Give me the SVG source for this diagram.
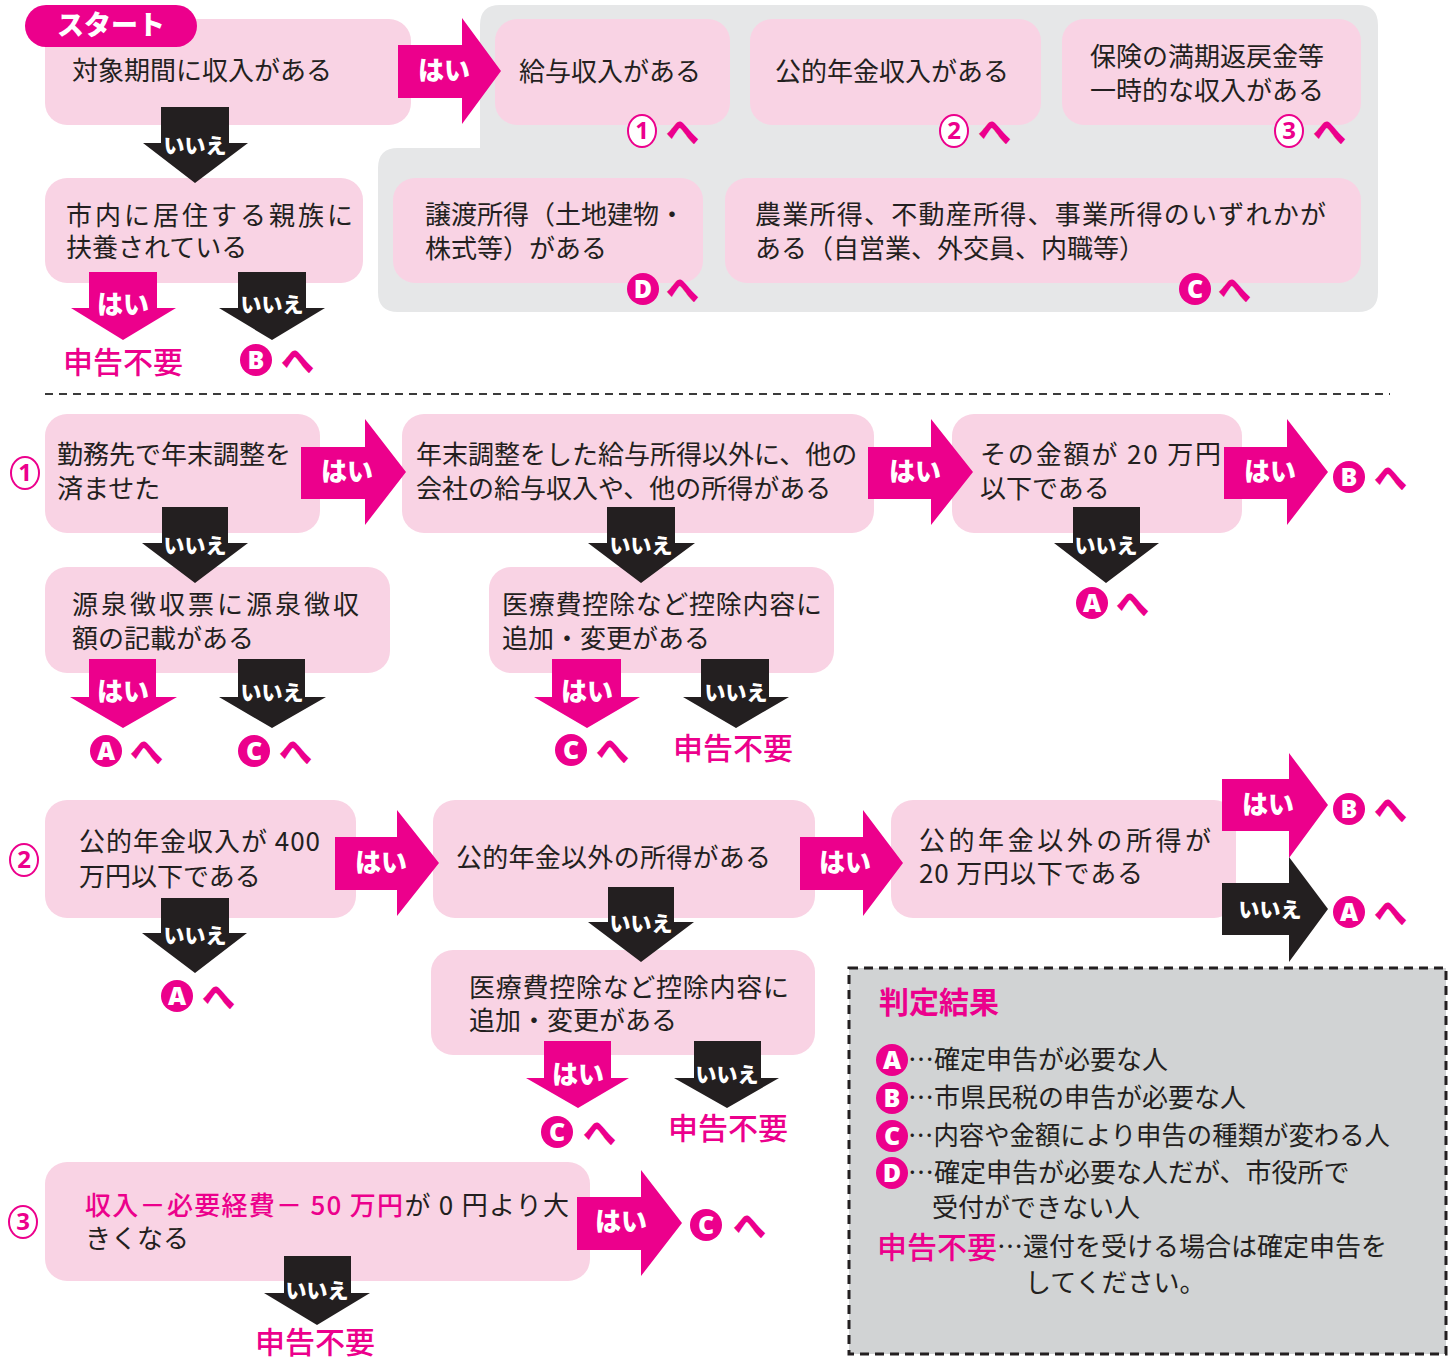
<svg xmlns="http://www.w3.org/2000/svg" width="1453" height="1358" viewBox="0 0 1453 1358">
<style>
.bg{fill:#ffffff}
.box{fill:#F9D3E4}
.panel{fill:#E6E7E8}
.t{font-family:"Noto Sans CJK JP","Noto Sans",sans-serif;font-size:26px;fill:#231F20}
.sp{letter-spacing:3px}
.mg{fill:#EC008C}
.bk{fill:#231F20}
.hai{font-family:"Noto Sans CJK JP","Noto Sans",sans-serif;font-size:26px;font-weight:900;fill:#ffffff;text-anchor:middle}
.iie{font-family:"Noto Sans CJK JP","Noto Sans",sans-serif;font-size:21px;font-weight:900;fill:#ffffff;text-anchor:middle}
.red{font-family:"Noto Sans CJK JP","Noto Sans",sans-serif;font-size:30px;font-weight:500;fill:#EC008C}
.he{font-family:"Noto Sans CJK JP","Noto Sans",sans-serif;font-size:33px;font-weight:900;fill:#EC008C}
.cl{fill:#EC008C}
.clt{font-family:"Noto Sans","Noto Sans CJK JP",sans-serif;font-size:25px;font-weight:900;fill:#ffffff;text-anchor:middle}
.cn{fill:#ffffff;stroke:#EC008C;stroke-width:2}
.cnt{font-family:"Noto Sans","Noto Sans CJK JP",sans-serif;font-size:24px;font-weight:700;fill:#EC008C;text-anchor:middle}
</style>
<rect class="bg" x="0" y="0" width="1453" height="1358"/>

<!-- gray panel -->
<path class="panel" d="M500 5 H1358 Q1378 5 1378 25 V292 Q1378 312 1358 312 H398 Q378 312 378 292 V168 Q378 148 398 148 H480 V25 Q480 5 500 5 Z"/>

<!-- dashed separator -->
<line x1="45" y1="394" x2="1390" y2="394" stroke="#3a3a3a" stroke-width="2" stroke-dasharray="8 6"/>

<!-- NODES: top section -->
<g id="n-q0">
<rect class="box" x="45" y="19" width="366" height="106" rx="22"/>
<text class="t" x="72" y="80">対象期間に収入がある</text>
</g>
<g id="n-start">
<rect class="mg" x="25" y="5" width="172" height="42" rx="21"/>
<text x="111" y="35" font-family="'Noto Sans CJK JP',sans-serif" font-size="27" font-weight="900" fill="#ffffff" text-anchor="middle">スタート</text>
</g>
<g id="n-kyuyo">
<rect class="box" x="495" y="19" width="235" height="106" rx="22"/>
<text class="t" x="519" y="81">給与収入がある</text>
<ellipse class="cn" cx="642" cy="131" rx="14" ry="16"/>
<text class="cnt" x="642" y="139">1</text>
<text class="he" x="666" y="144">へ</text>
</g>
<g id="n-nenkin">
<rect class="box" x="750" y="19" width="291" height="106" rx="22"/>
<text class="t" x="775" y="81">公的年金収入がある</text>
<ellipse class="cn" cx="954" cy="131" rx="14" ry="16"/>
<text class="cnt" x="954" y="139">2</text>
<text class="he" x="978" y="144">へ</text>
</g>
<g id="n-hoken">
<rect class="box" x="1062" y="19" width="299" height="106" rx="22"/>
<text class="t" x="1090" y="66">保険の満期返戻金等</text>
<text class="t" x="1090" y="100">一時的な収入がある</text>
<ellipse class="cn" cx="1289" cy="131" rx="14" ry="16"/>
<text class="cnt" x="1289" y="139">3</text>
<text class="he" x="1313" y="144">へ</text>
</g>
<g id="n-joto">
<rect class="box" x="393" y="178" width="310" height="105" rx="22"/>
<text class="t" x="425" y="224">譲渡所得（土地建物・</text>
<text class="t" x="425" y="258">株式等）がある</text>
<circle class="cl" cx="643" cy="289" r="16"/>
<text class="clt" x="643" y="298">D</text>
<text class="he" x="666" y="302">へ</text>
</g>
<g id="n-nogyo">
<rect class="box" x="725" y="178" width="636" height="105" rx="22"/>
<text class="t" x="755" y="224" textLength="571" lengthAdjust="spacing">農業所得、不動産所得、事業所得のいずれかが</text>
<text class="t" x="755" y="258">ある（自営業、外交員、内職等）</text>
<circle class="cl" cx="1195" cy="289" r="16"/>
<text class="clt" x="1195" y="298">C</text>
<text class="he" x="1218" y="302">へ</text>
</g>
<g id="n-fuyo">
<rect class="box" x="45" y="178" width="318" height="105" rx="22"/>
<text class="t sp" x="66" y="225">市内に居住する親族に</text>
<text class="t" x="66" y="257">扶養されている</text>
</g>
<g id="o-top-no">
<text class="red" x="63" y="373">申告不要</text>
</g>
<g id="o-top-b">
<circle class="cl" cx="256" cy="360" r="16"/>
<text class="clt" x="256" y="369">B</text>
<text class="he" x="281" y="373">へ</text>
</g>

<!-- NODES: section 1 -->
<g id="n-s1-label">
<ellipse class="cn" cx="25" cy="473" rx="14" ry="16"/>
<text class="cnt" x="25" y="481">1</text>
</g>
<g id="n-s1a">
<rect class="box" x="45" y="414" width="275" height="119" rx="22"/>
<text class="t" x="57" y="464">勤務先で年末調整を</text>
<text class="t" x="57" y="498">済ませた</text>
</g>
<g id="n-s1b">
<rect class="box" x="402" y="414" width="472" height="119" rx="22"/>
<text class="t" x="416" y="464">年末調整をした給与所得以外に、他の</text>
<text class="t" x="416" y="498">会社の給与収入や、他の所得がある</text>
</g>
<g id="n-s1c">
<rect class="box" x="952" y="414" width="290" height="119" rx="22"/>
<text class="t" x="980" y="464" textLength="241" lengthAdjust="spacing">その金額が 20 万円</text>
<text class="t" x="980" y="498">以下である</text>
</g>
<g id="n-s1d">
<rect class="box" x="45" y="567" width="345" height="106" rx="22"/>
<text class="t sp" x="72" y="614">源泉徴収票に源泉徴収</text>
<text class="t" x="72" y="648">額の記載がある</text>
</g>
<g id="n-s1e">
<rect class="box" x="489" y="567" width="345" height="106" rx="22"/>
<text class="t" x="502" y="614" textLength="320" lengthAdjust="spacing">医療費控除など控除内容に</text>
<text class="t" x="502" y="648">追加・変更がある</text>
</g>
<g id="o-s1-b">
<circle class="cl" cx="1349" cy="477" r="16"/>
<text class="clt" x="1349" y="486">B</text>
<text class="he" x="1374" y="490">へ</text>
</g>
<g id="o-s1-a1">
<circle class="cl" cx="1092" cy="603" r="16"/>
<text class="clt" x="1092" y="612">A</text>
<text class="he" x="1116" y="616">へ</text>
</g>
<g id="o-s1-a2">
<circle class="cl" cx="106" cy="751" r="16"/>
<text class="clt" x="106" y="760">A</text>
<text class="he" x="130" y="764">へ</text>
</g>
<g id="o-s1-c1">
<circle class="cl" cx="254" cy="751" r="16"/>
<text class="clt" x="254" y="760">C</text>
<text class="he" x="279" y="764">へ</text>
</g>
<g id="o-s1-c2">
<circle class="cl" cx="571" cy="750" r="16"/>
<text class="clt" x="571" y="759">C</text>
<text class="he" x="596" y="763">へ</text>
</g>
<g id="o-s1-no">
<text class="red" x="673" y="759">申告不要</text>
</g>

<!-- NODES: section 2 -->
<g id="n-s2-label">
<ellipse class="cn" cx="24" cy="860" rx="14" ry="16"/>
<text class="cnt" x="24" y="868">2</text>
</g>
<g id="n-s2a">
<rect class="box" x="45" y="800" width="311" height="118" rx="22"/>
<text class="t" x="79" y="851" textLength="241" lengthAdjust="spacing">公的年金収入が 400</text>
<text class="t" x="79" y="886">万円以下である</text>
</g>
<g id="n-s2b">
<rect class="box" x="433" y="800" width="382" height="118" rx="22"/>
<text class="t" x="456" y="867" textLength="315" lengthAdjust="spacing">公的年金以外の所得がある</text>
</g>
<g id="n-s2c">
<rect class="box" x="891" y="800" width="345" height="118" rx="22"/>
<text class="t" x="919" y="850" textLength="292" lengthAdjust="spacing">公的年金以外の所得が</text>
<text class="t" x="919" y="883" textLength="224" lengthAdjust="spacing">20 万円以下である</text>
</g>
<g id="n-s2d">
<rect class="box" x="431" y="950" width="384" height="105" rx="22"/>
<text class="t" x="469" y="997" textLength="320" lengthAdjust="spacing">医療費控除など控除内容に</text>
<text class="t" x="469" y="1030">追加・変更がある</text>
</g>
<g id="o-s2-b">
<circle class="cl" cx="1349" cy="809" r="16"/>
<text class="clt" x="1349" y="818">B</text>
<text class="he" x="1374" y="822">へ</text>
</g>
<g id="o-s2-a1">
<circle class="cl" cx="1349" cy="912" r="16"/>
<text class="clt" x="1349" y="921">A</text>
<text class="he" x="1374" y="925">へ</text>
</g>
<g id="o-s2-a2">
<circle class="cl" cx="177" cy="996" r="16"/>
<text class="clt" x="177" y="1005">A</text>
<text class="he" x="202" y="1009">へ</text>
</g>
<g id="o-s2-c">
<circle class="cl" cx="557" cy="1132" r="16"/>
<text class="clt" x="557" y="1141">C</text>
<text class="he" x="583" y="1145">へ</text>
</g>
<g id="o-s2-no">
<text class="red" x="668" y="1139">申告不要</text>
</g>

<!-- NODES: section 3 -->
<g id="n-s3-label">
<ellipse class="cn" cx="23" cy="1222" rx="14" ry="16"/>
<text class="cnt" x="23" y="1230">3</text>
</g>
<g id="n-s3">
<rect class="box" x="45" y="1162" width="545" height="119" rx="22"/>
<text class="t" x="85" y="1215" textLength="484" lengthAdjust="spacing"><tspan fill="#EC008C" font-weight="500">収入－必要経費－ 50 万円</tspan>が 0 円より大</text>
<text class="t" x="85" y="1248">きくなる</text>
</g>
<g id="o-s3-c">
<circle class="cl" cx="706" cy="1225" r="16"/>
<text class="clt" x="706" y="1234">C</text>
<text class="he" x="733" y="1238">へ</text>
</g>
<g id="o-s3-no">
<text class="red" x="255" y="1353">申告不要</text>
</g>

<!-- CONNECTORS -->
<g id="connectors">
<path class="mg" d="M398 45 H462 V18 L501 71 L462 124 V98 H398 Z"/>
<text class="hai" x="444" y="80">はい</text>
<path class="bk" d="M161 107 H229 V143 H248 L195 183 L143 143 H161 Z"/>
<text class="iie" x="195" y="153">いいえ</text>
<path class="mg" d="M89 272 H157 V308 H176 L123 340 L71 308 H89 Z"/>
<text class="hai" x="123" y="314">はい</text>
<path class="bk" d="M238 272 H306 V308 H325 L272 340 L219 308 H238 Z"/>
<text class="iie" x="272" y="312">いいえ</text>

<path class="mg" d="M301 447 H365 V419 L406 472 L365 525 V499 H301 Z"/>
<text class="hai" x="347" y="481">はい</text>
<path class="mg" d="M868 447 H931 V419 L973 472 L931 525 V499 H868 Z"/>
<text class="hai" x="915" y="481">はい</text>
<path class="mg" d="M1224 447 H1287 V419 L1328 472 L1287 525 V499 H1224 Z"/>
<text class="hai" x="1270" y="481">はい</text>
<path class="bk" d="M162 507 H228 V543 H248 L195 583 L142 543 H162 Z"/>
<text class="iie" x="195" y="553">いいえ</text>
<path class="bk" d="M607 507 H675 V543 H695 L641 583 L588 543 H607 Z"/>
<text class="iie" x="641" y="553">いいえ</text>
<path class="bk" d="M1073 507 H1140 V543 H1159 L1106 583 L1054 543 H1073 Z"/>
<text class="iie" x="1106" y="553">いいえ</text>
<path class="mg" d="M89 659 H156 V697 H177 L123 728 L70 697 H89 Z"/>
<text class="hai" x="123" y="701">はい</text>
<path class="bk" d="M238 659 H305 V697 H326 L272 728 L219 697 H238 Z"/>
<text class="iie" x="272" y="700">いいえ</text>
<path class="mg" d="M552 659 H621 V697 H640 L587 728 L534 697 H552 Z"/>
<text class="hai" x="587" y="701">はい</text>
<path class="bk" d="M701 659 H769 V697 H789 L736 728 L683 697 H701 Z"/>
<text class="iie" x="736" y="700">いいえ</text>

<path class="mg" d="M335 837 H397 V810 L439 863 L397 916 V890 H335 Z"/>
<text class="hai" x="381" y="872">はい</text>
<path class="mg" d="M800 837 H863 V810 L903 863 L863 916 V890 H800 Z"/>
<text class="hai" x="845" y="872">はい</text>
<path class="mg" d="M1222 779 H1289 V753 L1328 805 L1289 858 V831 H1222 Z"/>
<text class="hai" x="1268" y="814">はい</text>
<path class="bk" d="M1222 883 H1289 V857 L1328 909 L1289 962 V935 H1222 Z"/>
<text class="iie" x="1270" y="917">いいえ</text>
<path class="bk" d="M161 898 H229 V933 H247 L195 973 L142 933 H161 Z"/>
<text class="iie" x="195" y="943">いいえ</text>
<path class="bk" d="M608 887 H674 V922 H694 L641 962 L588 922 H608 Z"/>
<text class="iie" x="641" y="931">いいえ</text>
<path class="mg" d="M544 1041 H611 V1078 H629 L578 1108 L526 1078 H544 Z"/>
<text class="hai" x="578" y="1084">はい</text>
<path class="bk" d="M694 1041 H761 V1078 H779 L727 1108 L674 1078 H694 Z"/>
<text class="iie" x="727" y="1082">いいえ</text>

<path class="mg" d="M577 1197 H641 V1170 L682 1223 L641 1276 V1250 H577 Z"/>
<text class="hai" x="621" y="1231">はい</text>
<path class="bk" d="M284 1256 H351 V1293 H370 L317 1325 L264 1293 H284 Z"/>
<text class="iie" x="317" y="1298">いいえ</text>
</g>

<!-- LEGEND -->
<g id="legend">
<rect x="849" y="968" width="597" height="386" fill="#D1D3D4" stroke="#231F20" stroke-width="3" stroke-dasharray="9 6"/>
<text x="879" y="1013" font-family="'Noto Sans CJK JP',sans-serif" font-size="30" font-weight="700" fill="#EC008C">判定結果</text>
<circle class="cl" cx="892" cy="1060" r="16"/>
<text class="clt" x="892" y="1069">A</text>
<text class="t" x="908" y="1069">…確定申告が必要な人</text>
<circle class="cl" cx="892" cy="1098" r="16"/>
<text class="clt" x="892" y="1107">B</text>
<text class="t" x="908" y="1107">…市県民税の申告が必要な人</text>
<circle class="cl" cx="892" cy="1136" r="16"/>
<text class="clt" x="892" y="1145">C</text>
<text class="t" x="908" y="1145" textLength="482" lengthAdjust="spacingAndGlyphs">…内容や金額により申告の種類が変わる人</text>
<circle class="cl" cx="892" cy="1173" r="16"/>
<text class="clt" x="892" y="1182">D</text>
<text class="t" x="908" y="1182">…確定申告が必要な人だが、市役所で</text>
<text class="t" x="932" y="1217">受付ができない人</text>
<text class="red" x="877" y="1258">申告不要</text>
<text class="t" x="997" y="1256">…還付を受ける場合は確定申告を</text>
<text class="t" x="1025" y="1292">してください。</text>
</g>
</svg>
